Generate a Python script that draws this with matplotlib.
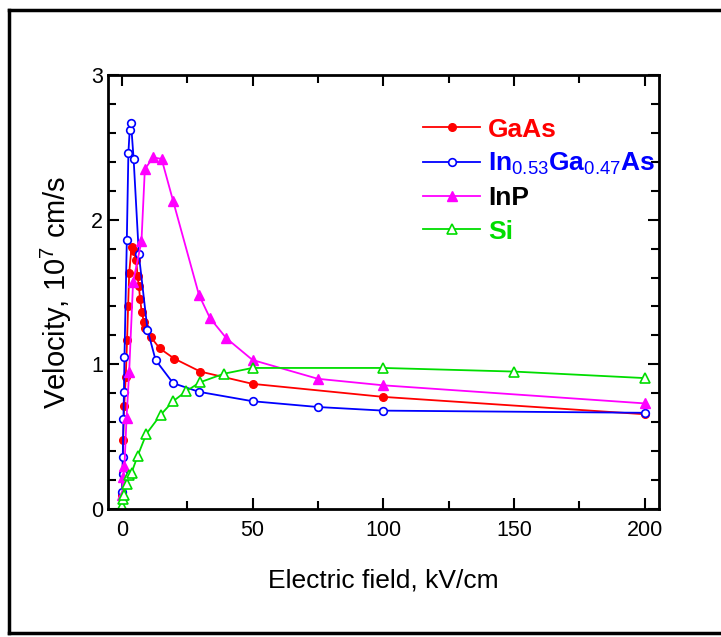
import matplotlib
matplotlib.use("Agg")
import matplotlib.pyplot as plt
from matplotlib.lines import Line2D
from matplotlib.ticker import MultipleLocator

plt.rcParams['font.family'] = ['Liberation Sans', 'DejaVu Sans']
plt.rcParams['mathtext.fontset'] = 'custom'
plt.rcParams['mathtext.rm'] = 'Liberation Sans'
plt.rcParams['mathtext.it'] = 'Liberation Sans'
plt.rcParams['mathtext.bf'] = 'Liberation Sans:bold'

# ---- data (electric field kV/cm, velocity 1e7 cm/s) ----
gaas_x = [0.15, 0.3, 0.5, 0.9, 1.5, 2.0, 2.4, 2.8, 3.7, 4.5, 5.5, 6.0, 6.5, 7.0, 7.6, 8.5, 9.0, 11.0, 14.5, 20, 30, 50, 100, 200]
gaas_y = [0.10, 0.25, 0.48, 0.71, 0.915, 1.17, 1.40, 1.63, 1.81, 1.78, 1.72, 1.61, 1.54, 1.45, 1.36, 1.29, 1.25, 1.19, 1.11, 1.04, 0.95, 0.865, 0.775, 0.655]

ingaas_x = [0.1, 0.25, 0.35, 0.6, 0.8, 1.0, 1.9, 2.5, 3.0, 3.5, 4.5, 6.5, 9.8, 12.9, 19.6, 29.5, 50, 75, 100, 200]
ingaas_y = [0.12, 0.24, 0.36, 0.62, 0.81, 1.05, 1.86, 2.46, 2.62, 2.67, 2.42, 1.76, 1.24, 1.03, 0.87, 0.81, 0.745, 0.705, 0.68, 0.665]

inp_x = [0.2, 0.5, 1.0, 1.8, 2.8, 4.3, 7.5, 8.8, 12.0, 15.2, 19.6, 29.5, 33.7, 40, 50, 75, 100, 200]
inp_y = [0.10, 0.22, 0.30, 0.63, 0.95, 1.57, 1.85, 2.35, 2.43, 2.42, 2.13, 1.48, 1.32, 1.18, 1.03, 0.90, 0.855, 0.73]

si_x = [0.0, 0.5, 0.9, 1.8, 2.7, 3.7, 6.0, 9.4, 14.8, 19.6, 24.7, 29.8, 39.0, 50, 100, 150, 200]
si_y = [0.02, 0.07, 0.10, 0.17, 0.235, 0.25, 0.365, 0.52, 0.65, 0.745, 0.815, 0.875, 0.935, 0.975, 0.975, 0.95, 0.905]

labels = ['GaAs', r'In$_{0.53}$Ga$_{0.47}$As', 'InP', 'Si']
label_colors = ['#ff0000', '#0000ff', '#000000', '#00dd00']
line_colors = ['#ff0000', '#0000ff', '#ff00ff', '#00dd00']

xticks = [0, 50, 100, 150, 200]
yticks = [0, 1, 2, 3]

fig = plt.figure(figsize=(7.21, 6.37), dpi=100)
ax = fig.add_axes([108/721, 1-509/637, (659-108)/721, (509-75)/637])

ms = 5.5
lw = 1.3
ax.plot(gaas_x, gaas_y, '-o', color=line_colors[0], ms=ms, lw=lw, mfc=line_colors[0], mec=line_colors[0], label=labels[0])
ax.plot(ingaas_x, ingaas_y, '-o', color=line_colors[1], ms=ms, lw=lw, mfc='white', mec=line_colors[1], mew=1.2, label=labels[1])
ax.plot(inp_x, inp_y, '-^', color=line_colors[2], ms=ms+1, lw=lw, mfc=line_colors[2], mec=line_colors[2], label=labels[2])
ax.plot(si_x, si_y, '-^', color=line_colors[3], ms=ms+1, lw=lw, mfc='white', mec=line_colors[3], mew=1.2, label=labels[3])

ax.set_xlim(-5.3, 205.5)
ax.set_ylim(0, 3)
ax.set_xticks(xticks)
ax.set_yticks(yticks)
ax.xaxis.set_minor_locator(MultipleLocator(25))
ax.yaxis.set_minor_locator(MultipleLocator(0.2))
ax.tick_params(which='both', direction='in', top=True, right=True, width=1.5, labelsize=15.5)
ax.tick_params(which='major', length=8)
ax.tick_params(which='minor', length=6)
ax.tick_params(axis='x', pad=8)
for s in ax.spines.values():
    s.set_linewidth(2)

ax.set_xlabel('Electric field, kV/cm', fontsize=19, labelpad=20)
ax.set_ylabel(r'Velocity, 10$^7$ cm/s', fontsize=21, labelpad=12)

leg = ax.legend(loc='upper left', bbox_to_anchor=(0.553, 0.926), frameon=False,
                handlelength=2.15, handletextpad=0.3, labelspacing=0.35,
                borderaxespad=0, prop={'weight': 'bold', 'size': 19})
for t, c in zip(leg.get_texts(), label_colors):
    t.set_color(c)

# outer frame
fig.add_artist(Line2D([9/721, 9/721], [1-10/637, 1-633/637], color='black', lw=2.5, transform=fig.transFigure))
fig.add_artist(Line2D([9/721, 1.0], [1-10/637, 1-10/637], color='black', lw=2.5, transform=fig.transFigure))
fig.add_artist(Line2D([9/721, 1.0], [1-633/637, 1-633/637], color='black', lw=2.5, transform=fig.transFigure))

fig.savefig('out.png', dpi=100)
